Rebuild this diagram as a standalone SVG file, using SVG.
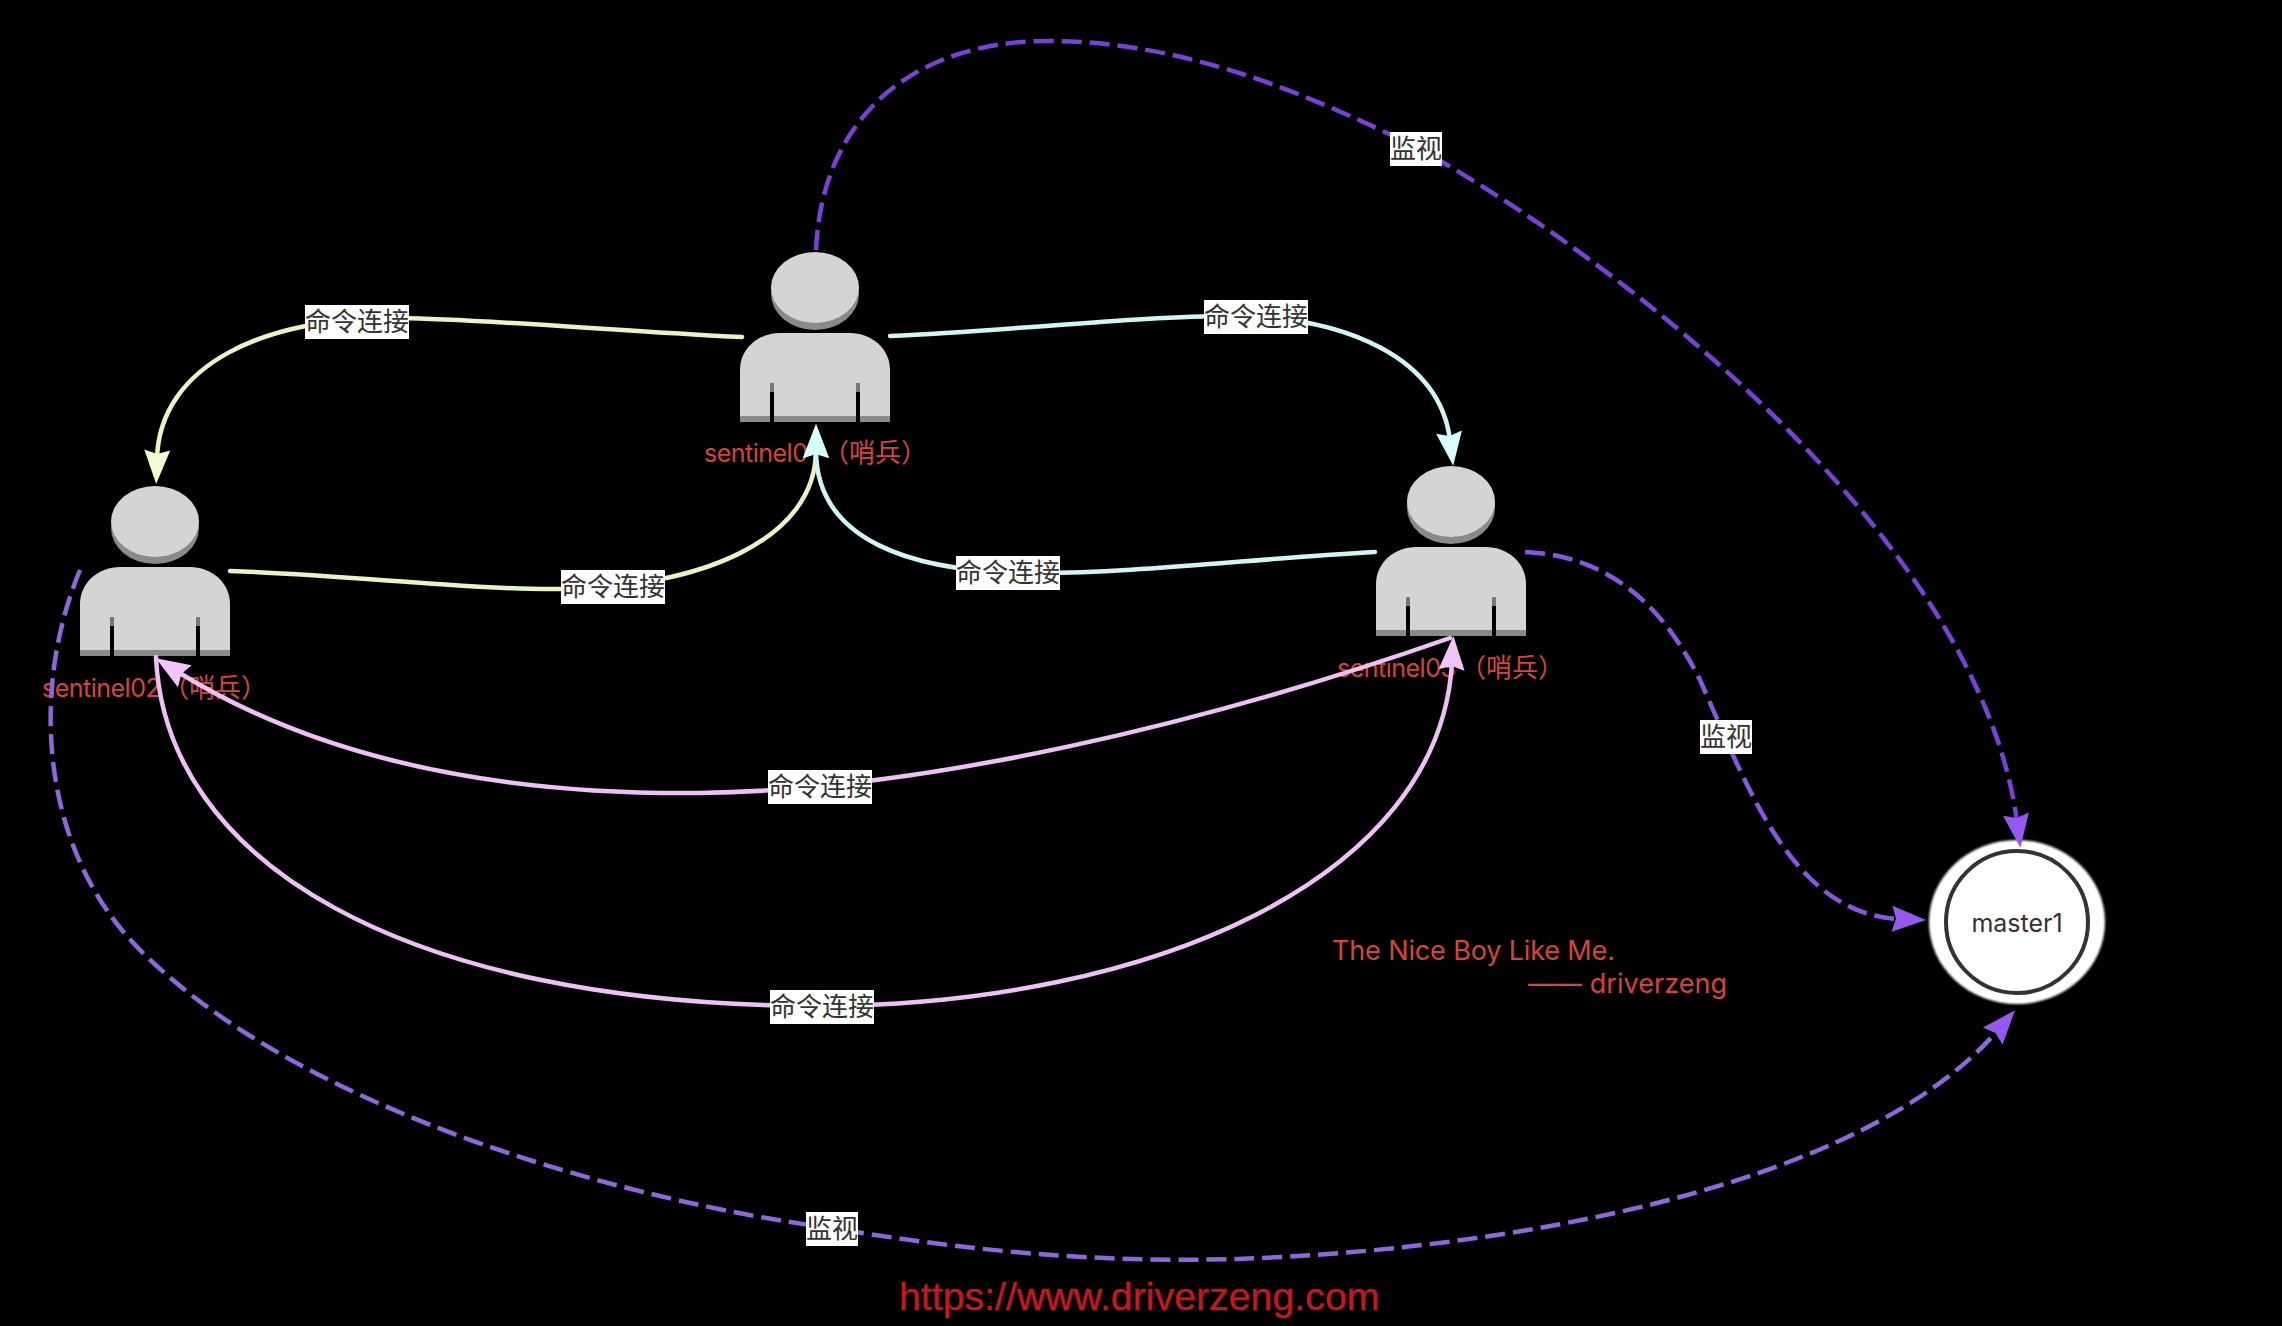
<svg xmlns="http://www.w3.org/2000/svg" width="2282" height="1326" viewBox="0 0 2282 1326">
<style>
.c{fill:none;stroke-width:4.500;stroke-linecap:round}
.d{stroke-dasharray:20 8;stroke-linecap:butt}
.g{stroke:#e6f5c4}.b{stroke:#d2f4f4}.p{stroke:#eec0f6}
.v1{stroke:#7b40d8}.v2{stroke:#8a55e0}.v3{stroke:#8f66dc}
.r{font-family:Inter,"Liberation Sans",sans-serif;font-size:25px;letter-spacing:-.5px;fill:#d8443a}
.z{font-family:"Noto Sans CJK SC",sans-serif;font-size:26px;letter-spacing:0}
.n{font-family:Inter,"Liberation Sans",sans-serif;font-size:27px;fill:#d8443a}
.l{font-family:"Noto Sans CJK SC","Liberation Sans",sans-serif;font-size:26px;fill:#333;text-anchor:middle}
.w{fill:#fff}
</style>
<defs>
<filter id="soft" x="-5%" y="-5%" width="110%" height="110%"><feGaussianBlur stdDeviation="1.200"/></filter>
<g id="person">
<ellipse cx="0" cy="42" rx="44" ry="36" fill="#8a8a8a"/>
<ellipse cx="0" cy="35.500" rx="44" ry="35.500" fill="#d4d4d4"/>
<path d="M-75 170V118C-75 96-56 81-35 81H35C56 81 75 96 75 118V170Z" fill="#d4d4d4"/>
<rect x="-75" y="164" width="150" height="6" fill="#8a8a8a"/>
<rect x="-45" y="131" width="4" height="39" fill="#000"/>
<rect x="41" y="131" width="4" height="39" fill="#000"/>
<rect x="-45" y="131" width="4" height="9" fill="#777"/>
<rect x="41" y="131" width="4" height="9" fill="#777"/>
</g>
<marker id="ag" markerUnits="userSpaceOnUse" markerWidth="40" markerHeight="30" refX="8" refY="14" orient="auto" overflow="visible"><path d="M0 1L34 14L0 27L4 14Z" fill="#f0fdd0"/></marker>
<marker id="ab" markerUnits="userSpaceOnUse" markerWidth="40" markerHeight="30" refX="8" refY="14" orient="auto" overflow="visible"><path d="M0 1L34 14L0 27L4 14Z" fill="#d8ffff"/></marker>
<marker id="ap" markerUnits="userSpaceOnUse" markerWidth="40" markerHeight="30" refX="8" refY="14" orient="auto" overflow="visible"><path d="M0 1L34 14L0 27L4 14Z" fill="#f2c4fb"/></marker>
<marker id="av" markerUnits="userSpaceOnUse" markerWidth="40" markerHeight="30" refX="8" refY="14" orient="auto" overflow="visible"><path d="M0 1L34 14L0 27L4 14Z" fill="#9558f0"/></marker>
</defs>
<rect width="2282" height="1326" fill="#000"/>
<g id="sentinel01"><use href="#person" x="815" y="252"/><text class="r" x="704" y="462">sentinel01<tspan class="z" x="823">（哨兵）</tspan></text></g>
<g id="sentinel02"><use href="#person" x="155" y="486"/><text class="r" x="42" y="697">sentinel02<tspan class="z" x="163">（哨兵）</tspan></text></g>
<g id="sentinel03"><use href="#person" x="1451" y="466"/><text class="r" x="1337" y="677">sentinel03<tspan class="z" x="1460">（哨兵）</tspan></text></g>
<g id="master1">
<ellipse cx="2017" cy="922" rx="88" ry="82" fill="#fff" filter="url(#soft)"/>
<circle cx="2017" cy="922" r="71" fill="#fff" stroke="#333" stroke-width="4"/>
<text x="2017" y="932" font-family="Inter,'Liberation Sans',sans-serif" font-size="25" fill="#333" text-anchor="middle">master1</text>
</g>
<g id="connectors">
<path class="c g" marker-end="url(#ag)" d="M742 337C620 331 480 319 400 318C265 316 160 365 157 458"/>
<path class="c b" marker-end="url(#ab)" d="M890 336C1020 330 1140 316 1230 316C1350 316 1440 360 1450 440"/>
<path class="c g" marker-end="url(#ag)" d="M230 571C350 575 470 590 560 589C700 588 816 540 816 450"/>
<path class="c b" marker-end="url(#ab)" d="M1375 552C1260 558 1130 574 1030 573C910 572 816 540 816 450"/>
<path class="c p" marker-end="url(#ap)" d="M1450 638C1210 722 930 790 700 793C500 795 320 760 178 672"/>
<path class="c p" marker-end="url(#ap)" d="M156 657C165 860 400 1006 822 1006C1150 1004 1440 880 1452 662"/>
<path class="c d v1" marker-end="url(#av)" d="M816 250C822 115 915 41 1048 41C1180 41 1300 90 1416 147C1620 260 1980 540 2017 822"/>
<path class="c d v2" marker-end="url(#av)" d="M1525 552C1620 556 1670 620 1700 680C1745 780 1790 915 1900 919"/>
<path class="c d v3" marker-end="url(#av)" d="M80 570C30 690 40 850 140 950C300 1110 620 1200 831 1228C1000 1256 1120 1262 1237 1259C1500 1250 1860 1190 1998 1030"/>
</g>
<g id="labels">
<rect class="w" x="305" y="305" width="104" height="34"/><text class="l" x="357" y="331">命令连接</text>
<rect class="w" x="1204" y="300" width="104" height="34"/><text class="l" x="1256" y="326">命令连接</text>
<rect class="w" x="561" y="570" width="104" height="34"/><text class="l" x="613" y="596">命令连接</text>
<rect class="w" x="956" y="556" width="104" height="34"/><text class="l" x="1008" y="582">命令连接</text>
<rect class="w" x="768" y="770" width="104" height="34"/><text class="l" x="820" y="796">命令连接</text>
<rect class="w" x="770" y="990" width="104" height="34"/><text class="l" x="822" y="1016">命令连接</text>
<rect class="w" x="1390" y="132" width="52" height="34"/><text class="l" x="1416" y="158">监视</text>
<rect class="w" x="1700" y="720" width="52" height="34"/><text class="l" x="1726" y="746">监视</text>
<rect class="w" x="806" y="1212" width="52" height="34"/><text class="l" x="832" y="1238">监视</text>
</g>
<g id="notes">
<text class="n" x="1332" y="960" textLength="283">The Nice Boy Like Me.</text>
<text class="n" x="1528" y="993" textLength="199">—— driverzeng</text>
<text x="899" y="1310" font-family="'Liberation Sans',sans-serif" font-size="39.300" fill="#c8161d" stroke="#c8161d" stroke-width=".4">https://www.driverzeng.com</text>
</g>
</svg>
